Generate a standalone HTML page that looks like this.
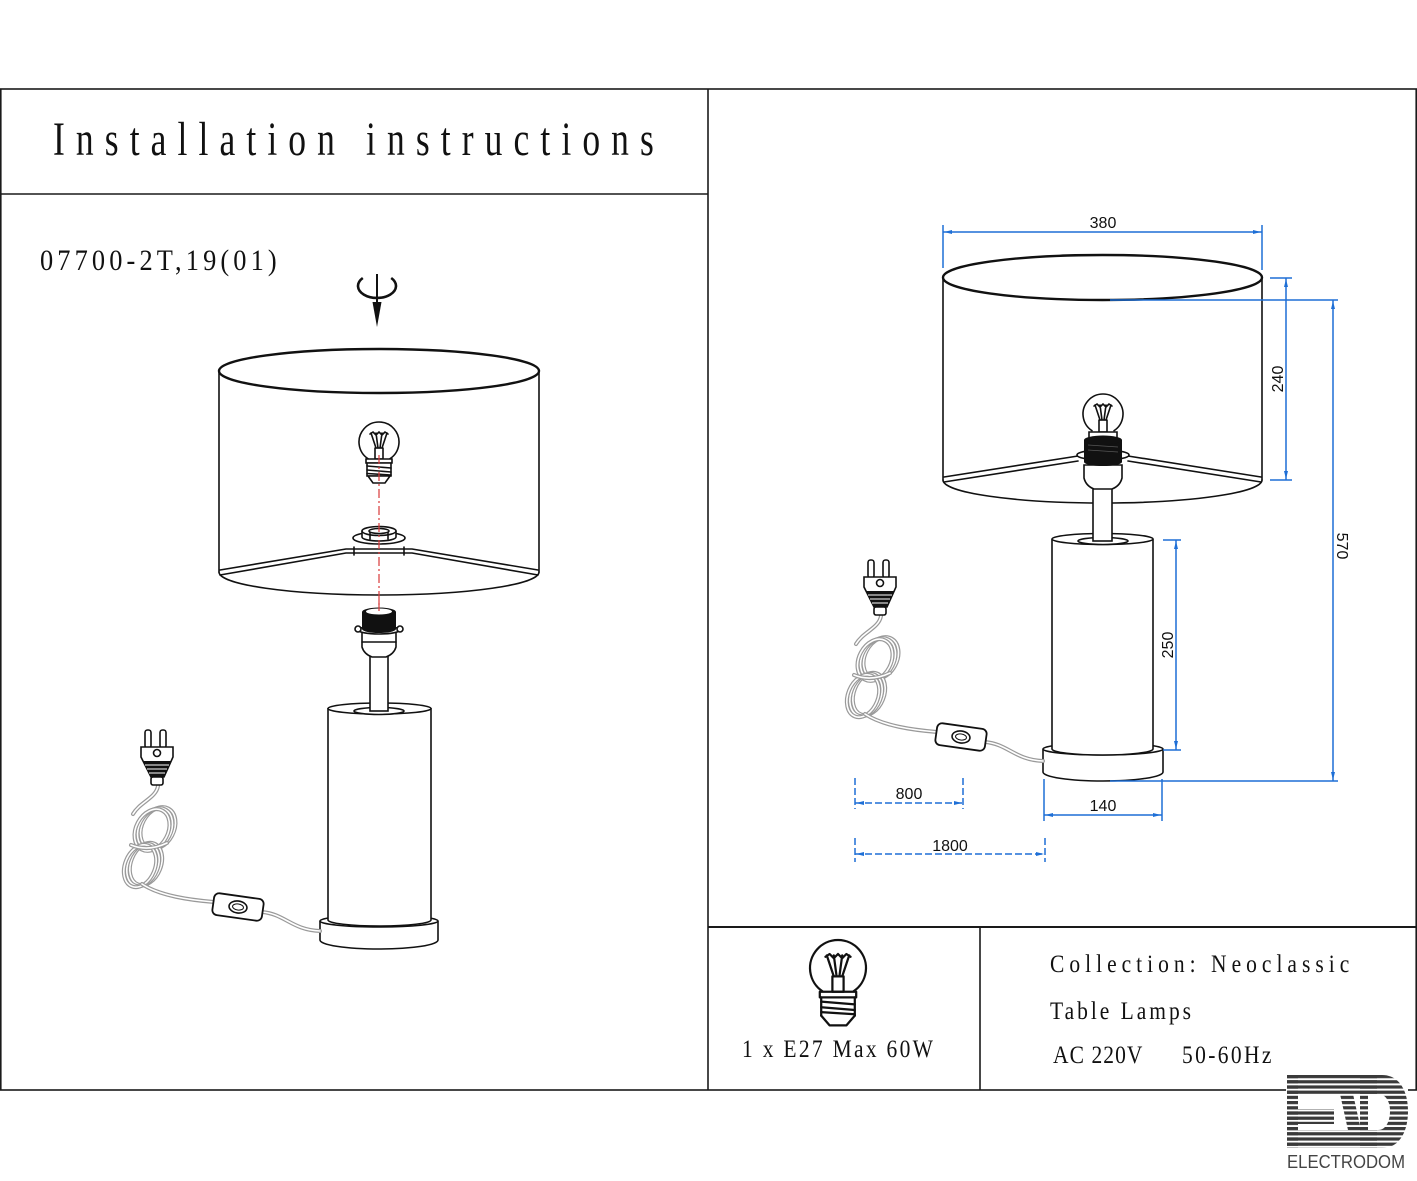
<!DOCTYPE html>
<html>
<head>
<meta charset="utf-8">
<style>
html,body{margin:0;padding:0;background:#fff;}
svg{display:block;}
.ln{fill:none;stroke:#111;stroke-width:1.6;stroke-linejoin:round;stroke-linecap:round;}
.w{fill:#fff;stroke:#111;stroke-width:1.6;}
.serif{font-family:"Liberation Serif","Noto Serif CJK SC",serif;fill:#111;}
.dimt{font-family:"Liberation Sans",sans-serif;font-size:16px;fill:#111;}
.dim{fill:none;stroke:#1e6fd6;stroke-width:1.5;}
.dimd{fill:none;stroke:#1e6fd6;stroke-width:1.5;stroke-dasharray:7,3;}
.arr{fill:#1e6fd6;}
.co{fill:none;stroke:#9a9a9a;stroke-width:4;stroke-linecap:round;}
.ci{fill:none;stroke:#fff;stroke-width:1.6;stroke-linecap:round;}
</style>
</head>
<body>
<svg width="1417" height="1181" viewBox="0 0 1417 1181" xmlns="http://www.w3.org/2000/svg">
<defs>
<pattern id="st" width="20" height="5.2" patternUnits="userSpaceOnUse" patternTransform="translate(0,1075)">
<rect x="0" y="0" width="20" height="3.2" fill="#3a3a3a"/>
</pattern>
</defs>
<rect width="1417" height="1181" fill="#fff"/>

<!-- Frame -->
<g stroke="#1a1a1a" stroke-width="1.6" fill="none">
<rect x="0.8" y="89" width="1415.4" height="1001"/>
<line x1="708" y1="89" x2="708" y2="1090"/>
<line x1="0" y1="194" x2="708" y2="194"/>
<line x1="708" y1="927" x2="1416" y2="927" stroke-width="2"/>
<line x1="980" y1="927" x2="980" y2="1090"/>
</g>

<!-- Title -->
<text class="serif" font-size="48" transform="translate(53,155) scale(0.74,1)" textLength="812" lengthAdjust="spacing">Installation instructions</text>
<text class="serif" font-size="30" transform="translate(40,270) scale(0.88,1)" textLength="269" lengthAdjust="spacing">07700-2T,19(01)</text>

<!-- rotation symbol -->
<path d="M362.8,278 A19,12 0 1 0 391.2,278" fill="none" stroke="#111" stroke-width="2.6"/>
<line x1="377" y1="274" x2="377" y2="304" stroke="#111" stroke-width="2"/>
<path d="M372.5,302 L381.5,302 L377,327 Z" fill="#111"/>

<!-- ============ LEFT LAMP ============ -->
<line class="ln" x1="219" y1="371" x2="219" y2="572"/>
<line class="ln" x1="539" y1="371" x2="539" y2="572"/>
<path class="ln" d="M219,572 A160,23 0 0 0 539,572"/>
<ellipse cx="379" cy="371" rx="160" ry="22" fill="none" stroke="#111" stroke-width="2.4"/>
<path class="ln" d="M220,570 L346,549 L412,549 L538,570" stroke-width="1.3"/>
<path class="ln" d="M220,575 L346,553 L412,553 L538,575" stroke-width="1.3"/>
<line class="ln" x1="354" y1="547" x2="354" y2="555" stroke-width="1.2"/>
<line class="ln" x1="404" y1="547" x2="404" y2="555" stroke-width="1.2"/>
<ellipse class="w" cx="379" cy="538" rx="26" ry="6"/>
<path class="w" d="M362,531 L362,537 A17,4 0 0 0 396,537 L396,531"/>
<ellipse class="w" cx="379" cy="531" rx="17" ry="4.5"/>
<ellipse class="ln" cx="379" cy="531" rx="10" ry="2.5" stroke-width="1.2"/>
<line class="ln" x1="370" y1="532" x2="370" y2="539" stroke-width="1"/>
<line class="ln" x1="388" y1="532" x2="388" y2="539" stroke-width="1"/>

<g transform="translate(379,442)">
<path class="ln" d="M-11,16.7 A20,20 0 1 1 11,16.7" fill="#fff"/>
<rect class="ln" x="-4" y="6" width="8" height="11"/>
<path class="ln" stroke-width="1.1" d="M-3,6 L-8,-9 M3,6 L8,-9 M-1,6 L-3,-9 M1,6 L3,-9 M-9,-8 L-6,-10 L-3,-7 L0,-10 L3,-7 L6,-10 L9,-8"/>
<path class="w" d="M-13,17 L13,17 L13,21 L-13,21 Z"/>
<path class="w" d="M-12,21 L12,21 L12,34 L-12,34 Z"/>
<path class="ln" stroke-width="1.2" d="M-12,24 L12,26 M-12,28 L12,30 M-12,31.5 L12,33"/>
<path class="w" d="M-11,34 L-6,41 L6,41 L11,34 Z"/>
</g>

<line x1="379" y1="455" x2="379" y2="611" stroke="#d83a3a" stroke-width="1.2" stroke-dasharray="9,3,2,3"/>

<path class="w" d="M320,921 L320,940 A59,9 0 0 0 438,940 L438,921"/>
<ellipse class="w" cx="379" cy="921" rx="59" ry="6"/>
<path class="w" d="M328,708 L328,920 A51.5,6 0 0 0 431,920 L431,708"/>
<ellipse class="w" cx="379.5" cy="708.5" rx="51.5" ry="5.5"/>
<ellipse class="w" cx="379" cy="711" rx="25" ry="3.5"/>
<rect class="w" x="370" y="656" width="18" height="55"/>
<path class="w" d="M362,632 L362,647 Q364,654 372,657 L386,657 Q394,654 396,647 L396,632 Z"/>
<line class="ln" x1="362" y1="642" x2="396" y2="642" stroke-width="1.2"/>
<ellipse class="w" cx="379" cy="630" rx="21" ry="4"/>
<circle class="w" cx="358" cy="629" r="3"/>
<circle class="w" cx="400" cy="629" r="3"/>
<path d="M362,612 L362,629 A17,4 0 0 0 396,629 L396,612 Z" fill="#111"/>
<ellipse cx="379" cy="612" rx="17" ry="4.5" fill="#111"/>
<ellipse cx="379" cy="611.5" rx="13" ry="3" fill="#fff"/>
<line x1="379" y1="600" x2="379" y2="611" stroke="#d83a3a" stroke-width="1.2"/>

<!-- plug + cord (left) -->
<g>
<path class="co" d="M158,786 C156,798 140,802 133,814"/>
<path class="ci" d="M158,786 C156,798 140,802 133,814"/>
<ellipse class="co" cx="158" cy="828" rx="16" ry="22" transform="rotate(28 158 828)"/>
<ellipse class="ci" cx="158" cy="828" rx="16" ry="22" transform="rotate(28 158 828)"/>
<ellipse class="co" cx="155" cy="829" rx="16" ry="22" transform="rotate(28 155 829)"/>
<ellipse class="ci" cx="155" cy="829" rx="16" ry="22" transform="rotate(28 155 829)"/>
<ellipse class="co" cx="152" cy="830" rx="16" ry="22" transform="rotate(28 152 830)"/>
<ellipse class="ci" cx="152" cy="830" rx="16" ry="22" transform="rotate(28 152 830)"/>
<ellipse class="co" cx="146" cy="864" rx="15" ry="22" transform="rotate(22 146 864)"/>
<ellipse class="ci" cx="146" cy="864" rx="15" ry="22" transform="rotate(22 146 864)"/>
<ellipse class="co" cx="143" cy="865" rx="15" ry="22" transform="rotate(22 143 865)"/>
<ellipse class="ci" cx="143" cy="865" rx="15" ry="22" transform="rotate(22 143 865)"/>
<ellipse class="co" cx="140" cy="866" rx="15" ry="22" transform="rotate(22 140 866)"/>
<ellipse class="ci" cx="140" cy="866" rx="15" ry="22" transform="rotate(22 140 866)"/>
<path class="co" d="M131,845 Q148,852 167,843"/>
<path class="ci" d="M131,845 Q148,852 167,843"/>
<path class="co" d="M142,884 C160,896 190,900 214,902"/>
<path class="ci" d="M142,884 C160,896 190,900 214,902"/>
<path class="co" d="M262,912 C285,914 292,930 320,931"/>
<path class="ci" d="M262,912 C285,914 292,930 320,931"/>
<g transform="rotate(8 238 907)">
<rect x="213" y="896" width="50" height="22" rx="5" fill="#fff" stroke="#111" stroke-width="1.8"/>
<ellipse cx="238" cy="907" rx="9" ry="6" fill="#fff" stroke="#111" stroke-width="1.6"/>
<ellipse cx="238" cy="907" rx="5.5" ry="3" fill="none" stroke="#111" stroke-width="1"/>
</g>
<rect class="w" x="145" y="730" width="6" height="18" rx="2.5"/>
<rect class="w" x="160" y="730" width="6" height="18" rx="2.5"/>
<path class="w" d="M141,747 L173,747 L173,757 L164,777 L151,777 L141,757 Z"/>
<path d="M143,761 L171,761 L164,777 L151,777 Z" fill="#111"/>
<path d="M145,765 L169,765 M147,769 L167,769 M149,773 L165,773" stroke="#fff" stroke-width="1"/>
<circle class="w" cx="157" cy="753" r="3.5" stroke-width="1.3"/>
<rect class="w" x="151" y="777" width="12" height="8" rx="2"/>
</g>

<!-- ============ RIGHT LAMP ============ -->
<line class="ln" x1="943" y1="277.5" x2="943" y2="480"/>
<line class="ln" x1="1262" y1="277.5" x2="1262" y2="480"/>
<path class="ln" d="M943,480 A159.5,23 0 0 0 1262,480"/>
<ellipse cx="1102.5" cy="277.5" rx="159.5" ry="22.5" fill="none" stroke="#111" stroke-width="2.4"/>
<path class="ln" d="M944,477 L1078,456" stroke-width="1.3"/>
<path class="ln" d="M944,482 L1078,461" stroke-width="1.3"/>
<path class="ln" d="M1128,456 L1261,477" stroke-width="1.3"/>
<path class="ln" d="M1128,461 L1261,482" stroke-width="1.3"/>

<g transform="translate(1103,414)">
<path class="ln" d="M-11,16.7 A20,20 0 1 1 11,16.7" fill="#fff"/>
<rect class="ln" x="-4" y="6" width="8" height="12"/>
<path class="ln" stroke-width="1.1" d="M-3,6 L-8,-9 M3,6 L8,-9 M-1,6 L-3,-9 M1,6 L3,-9 M-9,-8 L-6,-10 L-3,-7 L0,-10 L3,-7 L6,-10 L9,-8"/>
<path class="w" d="M-14,18 L14,18 L14,26 L-14,26 Z"/>
</g>

<path class="w" d="M1043,749 L1043,772 A60,9 0 0 0 1163,772 L1163,749"/>
<ellipse class="w" cx="1103" cy="749" rx="60" ry="6"/>
<path class="w" d="M1052,539 L1052,749 A50.5,6 0 0 0 1153,749 L1153,539"/>
<ellipse class="w" cx="1102.5" cy="539" rx="50.5" ry="5.5"/>
<ellipse class="w" cx="1103" cy="541" rx="25" ry="3.5"/>
<rect class="w" x="1093" y="488" width="19" height="53"/>
<path class="w" d="M1084,465 L1084,478 Q1086,486 1094,489 L1112,489 Q1120,486 1122,478 L1122,465 Z"/>
<ellipse class="w" cx="1103" cy="455" rx="26" ry="5"/>
<path d="M1084,440 L1084,462 A19,4 0 0 0 1122,462 L1122,440 Z" fill="#111"/>
<ellipse cx="1103" cy="440" rx="19" ry="4.5" fill="#111"/>
<path d="M1088,445 L1118,447 M1088,450 L1118,452" stroke="#555" stroke-width="0.8"/>

<!-- plug + cord (right) -->
<g transform="translate(723,-170)">
<path class="co" d="M158,786 C156,798 140,802 133,814"/>
<path class="ci" d="M158,786 C156,798 140,802 133,814"/>
<ellipse class="co" cx="158" cy="828" rx="16" ry="22" transform="rotate(28 158 828)"/>
<ellipse class="ci" cx="158" cy="828" rx="16" ry="22" transform="rotate(28 158 828)"/>
<ellipse class="co" cx="155" cy="829" rx="16" ry="22" transform="rotate(28 155 829)"/>
<ellipse class="ci" cx="155" cy="829" rx="16" ry="22" transform="rotate(28 155 829)"/>
<ellipse class="co" cx="152" cy="830" rx="16" ry="22" transform="rotate(28 152 830)"/>
<ellipse class="ci" cx="152" cy="830" rx="16" ry="22" transform="rotate(28 152 830)"/>
<ellipse class="co" cx="146" cy="864" rx="15" ry="22" transform="rotate(22 146 864)"/>
<ellipse class="ci" cx="146" cy="864" rx="15" ry="22" transform="rotate(22 146 864)"/>
<ellipse class="co" cx="143" cy="865" rx="15" ry="22" transform="rotate(22 143 865)"/>
<ellipse class="ci" cx="143" cy="865" rx="15" ry="22" transform="rotate(22 143 865)"/>
<ellipse class="co" cx="140" cy="866" rx="15" ry="22" transform="rotate(22 140 866)"/>
<ellipse class="ci" cx="140" cy="866" rx="15" ry="22" transform="rotate(22 140 866)"/>
<path class="co" d="M131,845 Q148,852 167,843"/>
<path class="ci" d="M131,845 Q148,852 167,843"/>
<path class="co" d="M142,884 C160,896 190,900 214,902"/>
<path class="ci" d="M142,884 C160,896 190,900 214,902"/>
<path class="co" d="M262,912 C285,914 292,930 320,931"/>
<path class="ci" d="M262,912 C285,914 292,930 320,931"/>
<g transform="rotate(8 238 907)">
<rect x="213" y="896" width="50" height="22" rx="5" fill="#fff" stroke="#111" stroke-width="1.8"/>
<ellipse cx="238" cy="907" rx="9" ry="6" fill="#fff" stroke="#111" stroke-width="1.6"/>
<ellipse cx="238" cy="907" rx="5.5" ry="3" fill="none" stroke="#111" stroke-width="1"/>
</g>
<rect class="w" x="145" y="730" width="6" height="18" rx="2.5"/>
<rect class="w" x="160" y="730" width="6" height="18" rx="2.5"/>
<path class="w" d="M141,747 L173,747 L173,757 L164,777 L151,777 L141,757 Z"/>
<path d="M143,761 L171,761 L164,777 L151,777 Z" fill="#111"/>
<path d="M145,765 L169,765 M147,769 L167,769 M149,773 L165,773" stroke="#fff" stroke-width="1"/>
<circle class="w" cx="157" cy="753" r="3.5" stroke-width="1.3"/>
<rect class="w" x="151" y="777" width="12" height="8" rx="2"/>
</g>

<!-- ============ DIMENSIONS ============ -->
<line class="dim" x1="943" y1="225" x2="943" y2="268"/>
<line class="dim" x1="1262" y1="225" x2="1262" y2="270"/>
<line class="dim" x1="943" y1="232" x2="1262" y2="232"/>
<path class="arr" d="M944,232 L952,230 L952,234 Z"/>
<path class="arr" d="M1261,232 L1253,230 L1253,234 Z"/>
<text class="dimt" x="1103" y="228" text-anchor="middle">380</text>

<line class="dim" x1="1270" y1="278" x2="1292" y2="278"/>
<line class="dim" x1="1270" y1="480" x2="1292" y2="480"/>
<line class="dim" x1="1286" y1="278" x2="1286" y2="480"/>
<path class="arr" d="M1286,279 L1284,287 L1288,287 Z"/>
<path class="arr" d="M1286,479 L1284,471 L1288,471 Z"/>
<text class="dimt" transform="translate(1283,379) rotate(-90)" text-anchor="middle">240</text>

<line class="dim" x1="1110" y1="300" x2="1338" y2="300"/>
<line class="dim" x1="1110" y1="781" x2="1338" y2="781"/>
<line class="dim" x1="1333" y1="300" x2="1333" y2="781"/>
<path class="arr" d="M1333,301 L1331,309 L1335,309 Z"/>
<path class="arr" d="M1333,780 L1331,772 L1335,772 Z"/>
<text class="dimt" transform="translate(1337,546) rotate(90)" text-anchor="middle">570</text>

<line class="dim" x1="1163" y1="540" x2="1181" y2="540"/>
<line class="dim" x1="1163" y1="750" x2="1181" y2="750"/>
<line class="dim" x1="1176" y1="540" x2="1176" y2="750"/>
<path class="arr" d="M1176,541 L1174,549 L1178,549 Z"/>
<path class="arr" d="M1176,749 L1174,741 L1178,741 Z"/>
<text class="dimt" transform="translate(1173,645) rotate(-90)" text-anchor="middle">250</text>

<line class="dim" x1="1044" y1="779" x2="1044" y2="821"/>
<line class="dim" x1="1162" y1="779" x2="1162" y2="821"/>
<line class="dim" x1="1044" y1="815" x2="1162" y2="815"/>
<path class="arr" d="M1045,815 L1053,813 L1053,817 Z"/>
<path class="arr" d="M1161,815 L1153,813 L1153,817 Z"/>
<text class="dimt" x="1103" y="811" text-anchor="middle">140</text>

<line class="dimd" x1="855" y1="778" x2="855" y2="809"/>
<line class="dimd" x1="963" y1="778" x2="963" y2="809"/>
<line class="dimd" x1="855" y1="803" x2="963" y2="803"/>
<path class="arr" d="M856,803 L864,801 L864,805 Z"/>
<path class="arr" d="M962,803 L954,801 L954,805 Z"/>
<text class="dimt" x="909" y="799" text-anchor="middle">800</text>

<line class="dimd" x1="855" y1="838" x2="855" y2="862"/>
<line class="dimd" x1="1045" y1="838" x2="1045" y2="862"/>
<line class="dimd" x1="855" y1="854" x2="1045" y2="854"/>
<path class="arr" d="M856,854 L864,852 L864,856 Z"/>
<path class="arr" d="M1044,854 L1036,852 L1036,856 Z"/>
<text class="dimt" x="950" y="851" text-anchor="middle">1800</text>

<!-- ============ BOTTOM TABLE ============ -->
<g transform="translate(838,968) scale(1.4)">
<path class="ln" stroke-width="1.3" d="M-11,16.7 A20,20 0 1 1 11,16.7"/>
<rect class="ln" stroke-width="1.2" x="-4" y="6" width="8" height="11"/>
<path class="ln" stroke-width="0.9" d="M-3,6 L-8,-9 M3,6 L8,-9 M-1,6 L-3,-9 M1,6 L3,-9 M-9,-8 L-6,-10 L-3,-7 L0,-10 L3,-7 L6,-10 L9,-8"/>
<path class="ln" stroke-width="1.2" d="M-13,17 L13,17 L13,21 L-13,21 Z"/>
<path class="ln" stroke-width="1.2" d="M-12,21 L-12,34 M12,21 L12,34"/>
<path class="ln" stroke-width="1" d="M-12,24 L12,26 M-12,28 L12,30 M-12,31.5 L12,33"/>
<path class="ln" stroke-width="1.2" d="M-12,34 L-6,41 L6,41 L12,34"/>
</g>
<text class="serif" font-size="25" transform="translate(742,1057) scale(0.86,1)" textLength="222" lengthAdjust="spacing">1 x E27 Max 60W</text>
<text class="serif" font-size="25" transform="translate(1050,972) scale(0.86,1)" textLength="348" lengthAdjust="spacing">Collection: Neoclassic</text>
<text class="serif" font-size="25" transform="translate(1050,1019) scale(0.86,1)" textLength="164" lengthAdjust="spacing">Table Lamps</text>
<text class="serif" font-size="25" transform="translate(1053,1063) scale(0.86,1)" textLength="104" lengthAdjust="spacing">AC 220V</text>
<text class="serif" font-size="25" transform="translate(1182,1063) scale(0.86,1)" textLength="104" lengthAdjust="spacing">50-60Hz</text>

<!-- ============ LOGO ============ -->
<rect x="1286" y="1085" width="122" height="10" fill="#fff"/>
<g fill="url(#st)">
<rect x="1287" y="1075" width="11" height="73"/>
<rect x="1287" y="1075" width="90" height="19"/>
<rect x="1287" y="1109" width="47" height="15"/>
<rect x="1287" y="1130" width="90" height="18"/>
<path d="M1340,1094 L1353,1094 L1361,1130 L1348,1130 Z"/>
<path fill-rule="evenodd" d="M1360,1075 L1382,1075 C1400,1075 1408,1092 1408,1111 C1408,1131 1400,1148 1382,1148 L1360,1148 Z M1368,1094 L1378,1094 C1386,1094 1390,1102 1390,1111 C1390,1121 1386,1130 1378,1130 L1368,1130 Z"/>
</g>
<text x="1287" y="1168" font-family="Liberation Sans, sans-serif" font-size="18" fill="#444" textLength="118" lengthAdjust="spacingAndGlyphs">ELECTRODOM</text>
</svg>
</body>
</html>
